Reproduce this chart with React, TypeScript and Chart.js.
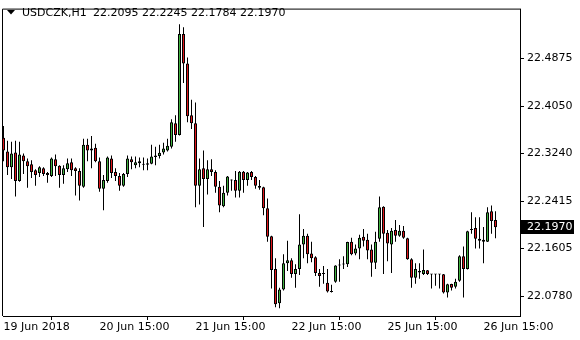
import React, { useEffect, useRef } from 'react';
import { Chart, registerables } from 'chart.js';

Chart.register(...registerables);

const symbolTitle = 'USDCZK,H1';

const openV = [
  22.3509, 22.3274, 22.3004, 22.3257, 22.2769, 22.3206, 22.3105, 22.3055, 22.2954, 22.2903,
  22.2987, 22.2903, 22.2853, 22.3139, 22.3030, 22.2870, 22.2971, 22.3089, 22.2987, 22.2937,
  22.2668, 22.3392, 22.3324, 22.3341, 22.3105, 22.2634, 22.2769, 22.3156, 22.2920, 22.2853,
  22.2684, 22.2886, 22.3139, 22.3038, 22.3105, 22.3055, 22.3046, 22.3063, 22.3181, 22.3195,
  22.3257, 22.3290, 22.3358, 22.3762, 22.3560, 22.5294, 22.4789, 22.3897, 22.3762, 22.2684,
  22.2987, 22.2802, 22.2971, 22.2920, 22.2668, 22.2331, 22.2566, 22.2785, 22.2785, 22.2600,
  22.2928, 22.2785, 22.2920, 22.2836, 22.2679, 22.2659, 22.2297, 22.1817, 22.1253, 22.0663,
  22.0899, 22.1354, 22.1404, 22.1169, 22.1253, 22.1674, 22.1825, 22.1522, 22.1455, 22.1186,
  22.1186, 22.1017, 22.0866, 22.1034, 22.1315, 22.1329, 22.1337, 22.1724, 22.1522, 22.1607,
  22.1808, 22.1758, 22.1590, 22.1362, 22.1775, 22.2322, 22.1876, 22.1674, 22.1926, 22.1825,
  22.1910, 22.1783, 22.1421, 22.1101, 22.1194, 22.1169, 22.1231, 22.1164, 22.1160, 22.1164,
  22.1164, 22.0849, 22.0995, 22.0950, 22.1051, 22.1472, 22.1253, 22.1926, 22.1960, 22.1775,
  22.1758, 22.1724, 22.2246, 22.2095,
];

const highV = [
  22.3712, 22.3459, 22.3442, 22.3459, 22.3442, 22.3240, 22.3156, 22.3122, 22.2971, 22.3021,
  22.3004, 22.2920, 22.3173, 22.3223, 22.3038, 22.3038, 22.3156, 22.3156, 22.3004, 22.2987,
  22.3493, 22.3493, 22.3543, 22.3408, 22.3173, 22.2870, 22.3190, 22.3206, 22.2987, 22.2903,
  22.2903, 22.3206, 22.3190, 22.3190, 22.3173, 22.3173, 22.3156, 22.3392, 22.3358, 22.3392,
  22.3425, 22.3493, 22.3829, 22.3897, 22.5463, 22.5412, 22.4890, 22.4166, 22.4116, 22.3156,
  22.3290, 22.3122, 22.3139, 22.2954, 22.2769, 22.2684, 22.2853, 22.2794, 22.2937, 22.2937,
  22.2937, 22.2920, 22.2937, 22.2853, 22.2785, 22.2668, 22.2465, 22.1825, 22.1438, 22.0933,
  22.1506, 22.1741, 22.1438, 22.1337, 22.2196, 22.1943, 22.1859, 22.1724, 22.1472, 22.1253,
  22.1303, 22.1253, 22.0983, 22.1320, 22.1421, 22.1472, 22.1724, 22.1792, 22.1674, 22.1842,
  22.1943, 22.1859, 22.1674, 22.1893, 22.2499, 22.2331, 22.1926, 22.1960, 22.2095, 22.2011,
  22.1994, 22.1792, 22.1438, 22.1354, 22.1354, 22.1590, 22.1236, 22.1169, 22.1169, 22.1169,
  22.1169, 22.1000, 22.1000, 22.1085, 22.1489, 22.1640, 22.1910, 22.2230, 22.2145, 22.2145,
  22.1977, 22.2314, 22.2347, 22.2245,
];

const lowV = [
  22.3105, 22.2870, 22.2802, 22.2499, 22.2752, 22.2886, 22.2651, 22.2819, 22.2684, 22.2836,
  22.2853, 22.2735, 22.2836, 22.2853, 22.2651, 22.2718, 22.2920, 22.2853, 22.2516, 22.2432,
  22.2651, 22.3105, 22.2987, 22.3089, 22.2583, 22.2263, 22.2735, 22.2819, 22.2769, 22.2600,
  22.2668, 22.2836, 22.2971, 22.2987, 22.3004, 22.2954, 22.2954, 22.3055, 22.3038, 22.3156,
  22.3223, 22.3274, 22.3324, 22.3442, 22.3551, 22.4452, 22.3779, 22.3661, 22.2314, 22.2364,
  22.1977, 22.2533, 22.2853, 22.2566, 22.2230, 22.2314, 22.2516, 22.2600, 22.2482, 22.2482,
  22.2566, 22.2684, 22.2785, 22.2634, 22.2617, 22.2179, 22.1724, 22.0916, 22.0596, 22.0579,
  22.0882, 22.1219, 22.1101, 22.0933, 22.1152, 22.1438, 22.1354, 22.1371, 22.1135, 22.0950,
  22.1000, 22.0849, 22.0849, 22.1017, 22.1034, 22.1253, 22.1287, 22.1489, 22.1489, 22.1421,
  22.1640, 22.1421, 22.1118, 22.1253, 22.1724, 22.1169, 22.1388, 22.1186, 22.1724, 22.1808,
  22.1775, 22.1413, 22.0933, 22.1000, 22.1085, 22.1152, 22.1152, 22.0916, 22.0967, 22.0916,
  22.0832, 22.0765, 22.0882, 22.0916, 22.1034, 22.0765, 22.1244, 22.1859, 22.1607, 22.1607,
  22.1354, 22.1716, 22.1859, 22.1784,
];

const closeV = [
  22.3290, 22.3004, 22.3240, 22.2769, 22.3223, 22.3105, 22.3021, 22.2920, 22.2870, 22.3004,
  22.2886, 22.2870, 22.3156, 22.3021, 22.2870, 22.2987, 22.3072, 22.2954, 22.2937, 22.2684,
  22.3392, 22.3290, 22.3290, 22.3105, 22.2634, 22.2785, 22.3173, 22.2903, 22.2853, 22.2684,
  22.2886, 22.3156, 22.3089, 22.3089, 22.3072, 22.3046, 22.3072, 22.3190, 22.3206, 22.3252,
  22.3324, 22.3375, 22.3779, 22.3560, 22.5294, 22.4789, 22.3880, 22.3762, 22.2684, 22.2971,
  22.2802, 22.2971, 22.2920, 22.2668, 22.2347, 22.2566, 22.2844, 22.2777, 22.2600, 22.2928,
  22.2785, 22.2912, 22.2836, 22.2684, 22.2651, 22.2297, 22.1808, 22.1236, 22.0647, 22.0899,
  22.1354, 22.1404, 22.1169, 22.1253, 22.1674, 22.1825, 22.1506, 22.1438, 22.1186, 22.1135,
  22.1169, 22.0866, 22.0857, 22.1312, 22.1332, 22.1337, 22.1716, 22.1506, 22.1607, 22.1792,
  22.1741, 22.1573, 22.1362, 22.1724, 22.2314, 22.1859, 22.1691, 22.1910, 22.1825, 22.1910,
  22.1792, 22.1421, 22.1101, 22.1253, 22.1219, 22.1236, 22.1169, 22.1159, 22.1164, 22.1159,
  22.0849, 22.0992, 22.0933, 22.1034, 22.1472, 22.1253, 22.1901, 22.1943, 22.1775, 22.1741,
  22.1724, 22.2230, 22.2078, 22.1970,
];

const xTickIndex = [0, 24, 48, 72, 96, 120];
const xTickLabels = ['19 Jun 2018', '20 Jun 15:00', '21 Jun 15:00', '22 Jun 15:00', '25 Jun 15:00', '26 Jun 15:00'];
const yTickValues = [22.4875, 22.405, 22.324, 22.2415, 22.1605, 22.078];

const yMin = 22.0445;
const yMax = 22.5715;
const xMin = -0.125;
const xMax = 129.125;

const BULL = '#3fb13f';
const BEAR = '#e0161b';
const FONT = '"DejaVu Sans"';

const mtPlugin = {
  id: 'mtOverlay',
  afterDraw(chart: any) {
    const { ctx, chartArea: a, scales } = chart;
    ctx.save();
    ctx.strokeStyle = '#000';
    ctx.lineWidth = 1;
    ctx.beginPath();
    ctx.moveTo(a.left - 0.5, a.bottom);
    ctx.lineTo(a.left - 0.5, a.top - 0.5);
    ctx.lineTo(a.right + 1, a.top - 0.5);
    ctx.stroke();

    // title
    ctx.fillStyle = '#000';
    ctx.beginPath();
    ctx.moveTo(7, 10);
    ctx.lineTo(15, 10);
    ctx.lineTo(11, 14.5);
    ctx.closePath();
    ctx.fill();
    ctx.font = `11px ${FONT}`;
    ctx.textBaseline = 'middle';
    ctx.textAlign = 'left';
    ctx.fillText(symbolTitle, 22, 13);
    const n = closeV.length - 1;
    const ohlc = [openV[n], highV[n], lowV[n], closeV[n]].map((v) => v.toFixed(4)).join(' ');
    ctx.fillText(ohlc, 93, 13);

    // current price box
    const last = closeV[n];
    const y = Math.round(scales.y.getPixelForValue(last));
    ctx.fillStyle = '#000';
    ctx.fillRect(a.right + 1, y - 7, 53, 14);
    ctx.fillStyle = '#fff';
    ctx.fillText(last.toFixed(4), a.right + 7, y + 0.5);
    ctx.restore();
  },
};

export default function App() {
  const ref = useRef<HTMLCanvasElement | null>(null);

  useEffect(() => {
    if (!ref.current) return;
    const idx = openV.map((_, i) => i);
    const wicks = idx.map((i) => ({ x: i, y: [lowV[i], highV[i]] }));
    const bodies = idx.map((i) => ({
      x: i,
      y: [Math.min(openV[i], closeV[i]), Math.max(openV[i], closeV[i])],
    }));
    const bodyColors = idx.map((i) => (closeV[i] >= openV[i] ? BULL : BEAR));

    const chart = new Chart(ref.current, {
      type: 'bar',
      data: {
        datasets: [
          {
            label: 'body',
            data: bodies as any,
            backgroundColor: bodyColors,
            borderColor: '#000',
            borderWidth: 1,
            borderSkipped: false,
            barThickness: 3,
            minBarLength: 1,
            grouped: false,
            inflateAmount: 0,
          } as any,
          {
            label: 'wick',
            data: wicks as any,
            backgroundColor: '#000',
            borderWidth: 0,
            barThickness: 1,
            grouped: false,
            inflateAmount: 0,
          } as any,
        ],
      },
      options: {
        animation: false,
        responsive: false,
        devicePixelRatio: 1,
        layout: { padding: { left: 3, top: 3, right: 0, bottom: 0 } },
        plugins: { legend: { display: false }, tooltip: { enabled: false } },
        scales: {
          x: {
            type: 'linear',
            min: xMin,
            max: xMax,
            offset: false,
            grid: { display: true, drawOnChartArea: false, drawTicks: true, tickLength: 4, color: '#000' },
            border: { display: true, color: '#000' },
            afterBuildTicks: (scale: any) => {
              scale.ticks = xTickIndex.map((v) => ({ value: v }));
            },
            afterFit: (scale: any) => {
              scale.height = 24;
            },
            ticks: {
              autoSkip: false,
              maxRotation: 0,
              minRotation: 0,
              align: 'start',
              padding: 1,
              color: '#000',
              font: { family: FONT, size: 11 },
              callback: (v: any) => {
                const k = xTickIndex.indexOf(Number(v));
                return k >= 0 ? xTickLabels[k] : '';
              },
            },
          } as any,
          y: {
            type: 'linear',
            position: 'right',
            min: yMin,
            max: yMax,
            grid: { display: true, drawOnChartArea: false, drawTicks: true, tickLength: 4, color: '#000' },
            border: { display: true, color: '#000' },
            afterBuildTicks: (scale: any) => {
              scale.ticks = yTickValues.map((v) => ({ value: v }));
            },
            afterFit: (scale: any) => {
              scale.width = 60;
            },
            ticks: {
              padding: 3,
              color: '#000',
              font: { family: FONT, size: 11 },
              callback: (v: any) => Number(v).toFixed(4),
            },
          } as any,
        },
      },
      plugins: [mtPlugin],
    });
    return () => chart.destroy();
  }, []);

  return (
    <div style={{ position: 'absolute', left: 0, top: 0, width: 580, height: 340, background: '#fff' }}>
      <canvas ref={ref} width={580} height={340} style={{ width: 580, height: 340, display: 'block' }} />
    </div>
  );
}
